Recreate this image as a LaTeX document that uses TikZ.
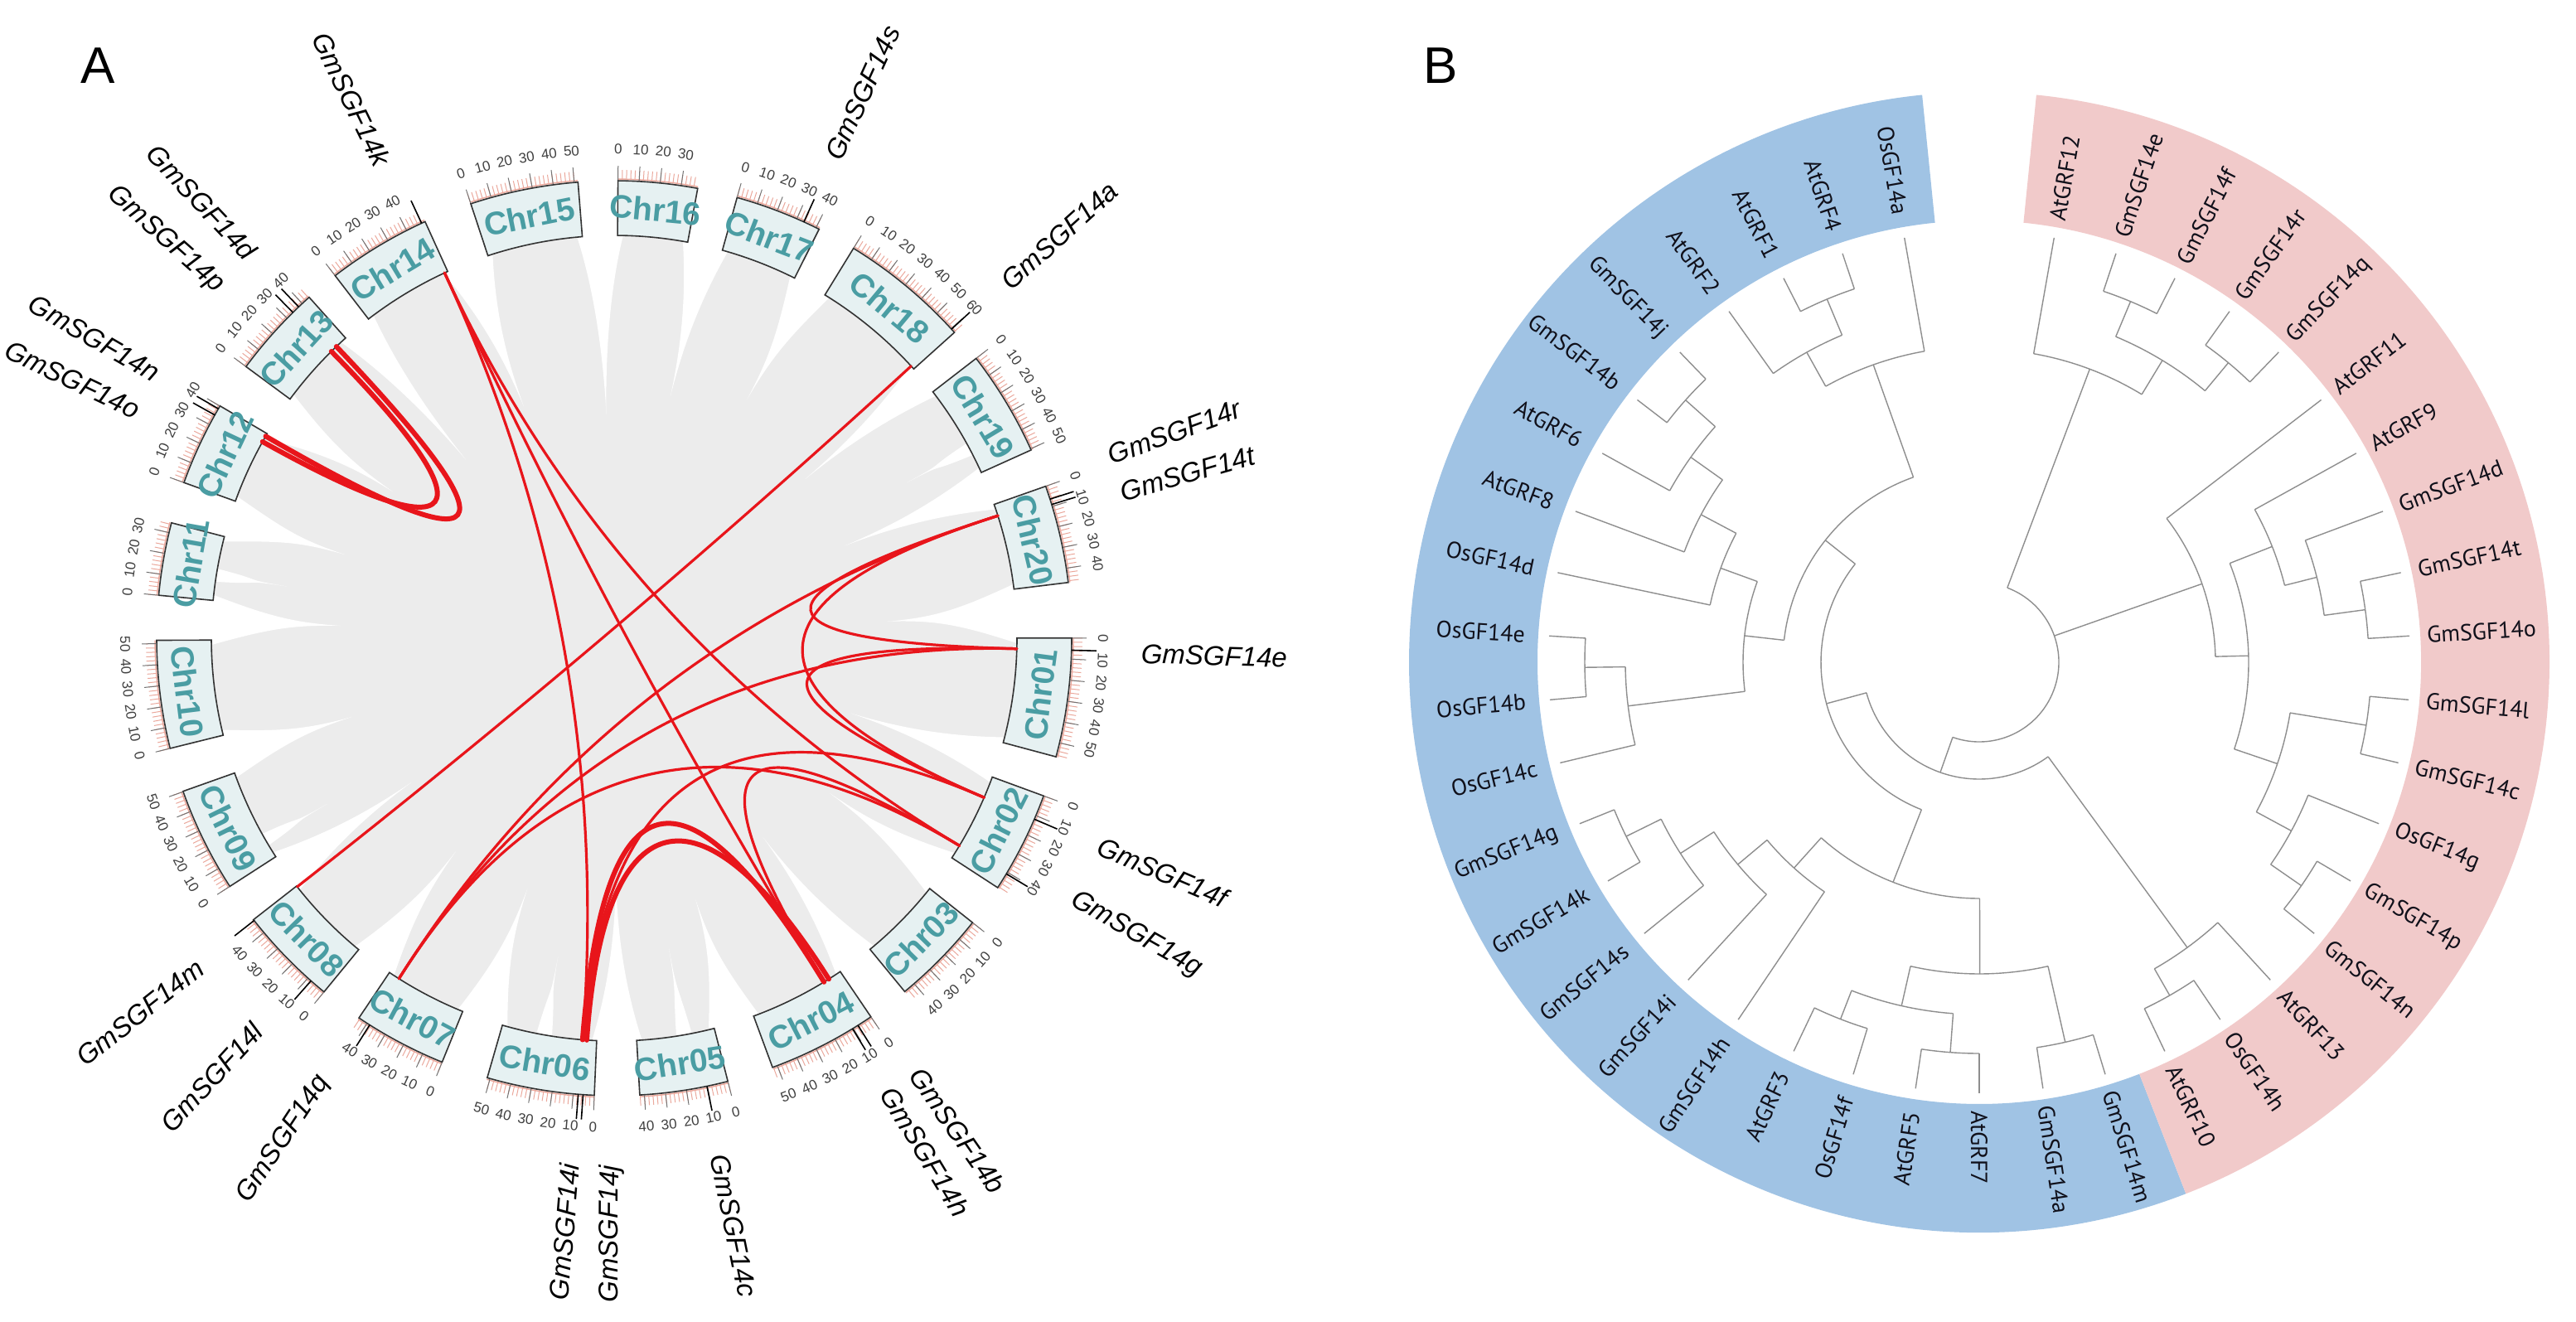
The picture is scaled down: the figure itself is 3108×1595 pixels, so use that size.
\documentclass[tikz,border=0pt]{standalone}
\usepackage{fontspec}
\setmainfont{Liberation Sans}
\newfontfamily\treefont{PT Sans}
\usetikzlibrary{calc}
\definecolor{ribbon}{HTML}{ECECEC}
\definecolor{chrfill}{HTML}{E6F1F2}
\definecolor{chrtext}{HTML}{4A9DA3}
\definecolor{tickc}{HTML}{EBA89C}
\definecolor{linkred}{HTML}{E8151B}
\definecolor{blueband}{HTML}{A0C3E4}
\definecolor{pinkband}{HTML}{F1CACA}
\definecolor{treeline}{HTML}{8E8E8E}
\definecolor{leaftext}{HTML}{10101A}
\tikzset{
  chrbox/.style={fill=chrfill, draw=black!80, line width=1.6},
  chrlabel/.style={text=chrtext, font=\bfseries\fontsize{39}{43}\selectfont, inner sep=0},
  ticknum/.style={text=black!75, font=\fontsize{17}{19}\selectfont, inner sep=0},
  genelabel/.style={font=\itshape\fontsize{33}{37}\selectfont, inner sep=0},
  genemark/.style={black, line width=1.6},
  thicklink/.style={line width=6},
  treel/.style={treeline, line width=1.4},
  leaflabel/.style={text=leaftext, font=\treefont\fontsize{28}{30}\selectfont, inner sep=0},
  panellabel/.style={font=\fontsize{62}{66}\selectfont}
}
\newcommand{\whitespike}[3]{%
  \fill[white] ({#1+#2}:494) .. controls ({#1+0.3*#2}:420) and ({#1+0.05*#2}:{#3+60}) .. (#1:#3)
    .. controls ({#1-0.05*#2}:{#3+60}) and ({#1-0.3*#2}:420) .. ({#1-#2}:494) -- cycle;}
\newcommand{\glink}[4]{\draw[linkred, line width=3.2, line cap=round, #1] (#3) .. controls ($(#3)!#2!(O)$) and ($(#4)!#2!(O)$) .. (#4);}
\newcommand{\tarc}[3]{\draw[treel] (#2:#1) arc[start angle=#2, end angle=#3, radius=#1];}
\newcommand{\trad}[3]{\draw[treel] (#1:#2) -- (#1:#3);}
\begin{document}
\begin{tikzpicture}[x=1pt,y=1pt]
\useasboundingbox (0,0) rectangle (3108,-1595);
\fill[white] (0,0) rectangle (3108,-1595);

\node[panellabel] (labA) at (118,-79) {A};
\node[panellabel] (labB) at (1738,-79) {B};

%================ Panel A =================
\begin{scope}[shift={(741,-770)}]
\coordinate (O) at (0,0);
\fill[ribbon] (0,0) circle (488);
% white gaps between ribbon bundles
\whitespike{3.5}{4.5}{330}
\whitespike{-17.6}{3.6}{300}
\whitespike{-35.7}{3.7}{320}
\whitespike{-53.2}{3.6}{300}
\whitespike{-72.7}{4.0}{330}
\whitespike{-89.6}{3.8}{290}
\whitespike{-109.1}{4.0}{320}
\whitespike{-126.6}{3.7}{320}
\whitespike{-144.6}{3.5}{300}
\whitespike{-163.3}{3.8}{330}
\whitespike{177.4}{3.8}{330}
\whitespike{162.75}{3.6}{340}
\whitespike{146.5}{4.0}{320}
\whitespike{129.7}{3.2}{280}
\whitespike{111.3}{4.0}{300}
\whitespike{92.0}{3.5}{270}
\whitespike{76.9}{3.5}{300}
\whitespike{60.9}{3.4}{330}
\whitespike{39.8}{3.0}{300}
\whitespike{21.85}{3.4}{300}
% a few thin streaks inside the ribbons
\whitespike{-80}{1.2}{380}
\whitespike{-100}{1.2}{390}
\whitespike{-150}{1.0}{400}
\whitespike{171}{1.0}{400}
\whitespike{28}{1.0}{400}

% chromosomes
\foreach \nm/\c/\len in {01/-7.5/56.8, 02/-26.6/48.6, 03/-44.5/45.8, 04/-62.8/52.4, 05/-81.2/42.2, 06/-99.3/51.4, 07/-118/44.6, 08/-135.7/47.8, 09/-153.8/50.2, 10/-172.9/51.6, 11/170/34.8, 12/154.8/40.1, 13/137.7/44.4, 14/121/49.7, 15/101.4/51.8, 16/84.5/37.9, 17/68.9/41.6, 18/50.2/62.3, 19/31/50.6, 20/13.2/46.8}{
  \pgfmathsetmacro\half{\len*0.265/2}
  \pgfmathsetmacro\sa{\c+\half}
  \pgfmathsetmacro\ea{\c-\half}
  \pgfmathtruncatemacro\nmax{\len}
  \foreach \m in {0,2,...,\nmax}{
    \pgfmathsetmacro\a{\sa-\m*0.265}
    \draw[tickc, line width=1] (\a:553) -- (\a:565);
  }
  \draw[tickc, line width=1.4] (\sa:554) arc[start angle=\sa, end angle=\ea, radius=554];
  \foreach \m in {0,10,...,\nmax}{
    \pgfmathsetmacro\a{\sa-\m*0.265}
    \pgfmathsetmacro\nrot{ifthenelse(\c>-35,\a-90,\a+90)}
    \draw[black!55, line width=1] (\a:553) -- (\a:570);
    \node[ticknum, rotate=\nrot] (t\nm-\m) at (\a:590) {\m};
  }
  \filldraw[chrbox] (\sa:486) arc[start angle=\sa, end angle=\ea, radius=486] -- (\ea:552) arc[start angle=\ea, end angle=\sa, radius=552] -- cycle;
  \pgfmathsetmacro\rot{ifthenelse(\c>0,\c-90,\c+90)}
  \node[chrlabel, rotate=\rot] (chr\nm) at (\c:519) {Chr\nm};
}

% gene position markers
\foreach \a in {114.9,133.6,134.6,149.9,150.8,65.5,42.5,17.7,17.0,-1.5,-23.3,-31,-58.6,-57.8,-78.3,-94.5,-93.9,-122.3,-131.5,-141.9}{
  \draw[genemark] (\a:552) -- (\a:582);
}

% gene labels
\foreach \g/\a in {GmSGF14k/116, GmSGF14d/133.4, GmSGF14p/138.4, GmSGF14n/150, GmSGF14o/154.5, GmSGF14m/-141.7, GmSGF14l/-132.5, GmSGF14q/-123.4, GmSGF14i/-94.8, GmSGF14j/-90.3}{
  \node[genelabel, rotate=\a+180, anchor=east] (\g) at (\a:636) {\g};
}
\foreach \g/\a in {GmSGF14s/65.5, GmSGF14a/42.1, GmSGF14r/20.2, GmSGF14t/16.0, GmSGF14e/-1.7, GmSGF14f/-23.1, GmSGF14g/-29.6, GmSGF14b/-55.1, GmSGF14h/-58.8, GmSGF14c/-78.5}{
  \node[genelabel, rotate=\a, anchor=west] (\g) at (\a:636) {\g};
}

% link end points
\coordinate (gk) at (114.9:486);
\coordinate (gd) at (133.6:486);
\coordinate (gp) at (134.6:486);
\coordinate (gn) at (149.9:486);
\coordinate (go) at (150.8:486);
\coordinate (ga) at (42.5:486);
\coordinate (gr) at (17.7:486);
\coordinate (ge) at (-1.5:486);
\coordinate (gf) at (-23.3:486);
\coordinate (gg) at (-31:486);
\coordinate (gb) at (-58.6:486);
\coordinate (gh) at (-57.8:486);
\coordinate (gi) at (-94.5:486);
\coordinate (gj) at (-93.9:486);
\coordinate (gq) at (-122.3:486);
\coordinate (gm) at (-141.9:486);

% links
\glink{}{0.667}{gk}{gi}
\glink{}{0.667}{gk}{gb}
\glink{}{0.667}{gk}{gg}
\glink{}{0.667}{ga}{gm}
\glink{}{0.667}{gr}{gq}
\glink{}{0.667}{gr}{ge}
\glink{}{0.667}{gr}{gf}
\glink{}{0.667}{ge}{gf}
\glink{}{0.667}{ge}{gq}
\glink{}{0.667}{gq}{gg}
\glink{}{0.667}{gb}{gg}
\glink{}{0.667}{gi}{gf}
\glink{thicklink}{0.667}{gd}{gn}
\glink{thicklink}{0.58}{gp}{go}
\glink{thicklink}{0.667}{gi}{gb}
\glink{thicklink}{0.6}{gj}{gh}
\end{scope}

%================ Panel B =================
\begin{scope}[shift={(2388,-799)}]
\fill[blueband] (-68.75:533) -- (-68.75:688) arc[start angle=-68.75, end angle=-264.25, radius=688] -- (-264.25:533) arc[start angle=-264.25, end angle=-68.75, radius=533] -- cycle;
\fill[pinkband] (84.25:533) -- (84.25:688) arc[start angle=84.25, end angle=-68.75, radius=688] -- (-68.75:533) arc[start angle=-68.75, end angle=84.25, radius=533] -- cycle;

% leaves: index/name/parent radius
\foreach \i/\nm/\pr in {0/AtGRF12/378, 1/GmSGF14e/472, 2/GmSGF14f/472, 3/GmSGF14r/470, 4/GmSGF14q/470, 5/AtGRF11/285, 6/AtGRF9/380, 7/GmSGF14d/420, 8/GmSGF14t/470, 9/GmSGF14o/470, 10/GmSGF14l/473, 11/GmSGF14c/473, 12/OsGF14g/428, 13/GmSGF14p/473, 14/GmSGF14n/473, 15/AtGRF13/426, 16/OsGF14h/463, 17/AtGRF10/463, 18/GmSGF14m/470, 19/GmSGF14a/470, 20/AtGRF7/472, 21/AtGRF5/472, 22/OsGF14f/462, 23/AtGRF3/462, 24/GmSGF14h/334, 25/GmSGF14i/380, 26/GmSGF14s/428, 27/GmSGF14k/475, 28/GmSGF14g/475, 29/OsGF14c/427, 30/OsGF14b/476, 31/OsGF14e/476, 32/OsGF14d/332, 33/AtGRF8/380, 34/AtGRF6/427, 35/GmSGF14b/475, 36/GmSGF14j/475, 37/AtGRF2/428, 38/AtGRF1/475, 39/AtGRF4/475, 40/OsGF14a/381}{
  \pgfmathsetmacro\a{80-8.5*\i}
  \trad{\a}{\pr}{520}
  \ifnum\i<21
    \node[leaflabel, rotate=\a, anchor=west] (leaf\i) at (\a:541) {\nm};
  \else
    \node[leaflabel, rotate=\a+180, anchor=east] (leaf\i) at (\a:549) {\nm};
  \fi
}

% internal nodes
\tarc{96}{69.35}{-109.5}
\trad{69.35}{96}{378}
\trad{19.4}{96}{285}
\trad{-109.5}{96}{141}
\tarc{378}{80}{58.75} \trad{58.75}{378}{426}
\tarc{426}{67.25}{50.25} \trad{67.25}{426}{472} \trad{50.25}{426}{470}
\tarc{472}{71.5}{63}
\tarc{470}{54.5}{46}
\tarc{285}{37.5}{1.38} \trad{1.38}{285}{325}
\tarc{325}{21.56}{-18.8} \trad{21.56}{325}{380} \trad{-18.8}{325}{380}
\tarc{380}{29}{14.13} \trad{14.13}{380}{420}
\tarc{420}{20.5}{7.75} \trad{7.75}{420}{470}
\tarc{470}{12}{3.5}
\tarc{380}{-9.25}{-28.38} \trad{-9.25}{380}{473} \trad{-28.38}{380}{428}
\tarc{473}{-5}{-13.5}
\tarc{428}{-22}{-34.75} \trad{-34.75}{428}{473}
\tarc{473}{-30.5}{-39}
\tarc{141}{-53.9}{-164.85} \trad{-53.9}{141}{426} \trad{-164.85}{141}{191}
\tarc{426}{-47.5}{-60.25} \trad{-60.25}{426}{463}
\tarc{463}{-56}{-64.5}
\tarc{191}{-111.4}{-218.4} \trad{-111.4}{191}{285} \trad{-218.4}{191}{237}
\tarc{237}{-186.45}{-250.4} \trad{-250.4}{237}{381} \trad{-186.45}{237}{285}
\tarc{381}{-260}{-240.9} \trad{-240.9}{381}{428}
\tarc{428}{-247.25}{-234.5} \trad{-247.25}{428}{475}
\tarc{475}{-251.5}{-243}
\tarc{285}{-200}{-172.9} \trad{-200}{285}{332} \trad{-172.9}{285}{427}
\tarc{332}{-207.95}{-192} \trad{-207.95}{332}{380}
\tarc{380}{-215.4}{-200.5} \trad{-215.4}{380}{427}
\tarc{427}{-221.75}{-209} \trad{-221.75}{427}{475}
\tarc{475}{-226}{-217.5}
\tarc{427}{-179.25}{-166.5} \trad{-179.25}{427}{476}
\tarc{476}{-183.5}{-175}
\tarc{285}{-89.9}{-132} \trad{-89.9}{285}{376} \trad{-132}{285}{334}
\tarc{334}{-124}{-140.05} \trad{-140.05}{334}{380}
\tarc{380}{-132.5}{-147.4} \trad{-147.4}{380}{428}
\tarc{428}{-141}{-153.75} \trad{-153.75}{428}{475}
\tarc{475}{-149.5}{-158}
\tarc{376}{-77.25}{-102.75} \trad{-77.25}{376}{470} \trad{-102.75}{376}{425}
\tarc{425}{-94.25}{-111.25} \trad{-94.25}{425}{472} \trad{-111.25}{425}{462}
\tarc{472}{-90}{-98.5}
\tarc{462}{-107}{-115.5}
\tarc{470}{-73}{-81.5}
\end{scope}
\end{tikzpicture}
\end{document}
